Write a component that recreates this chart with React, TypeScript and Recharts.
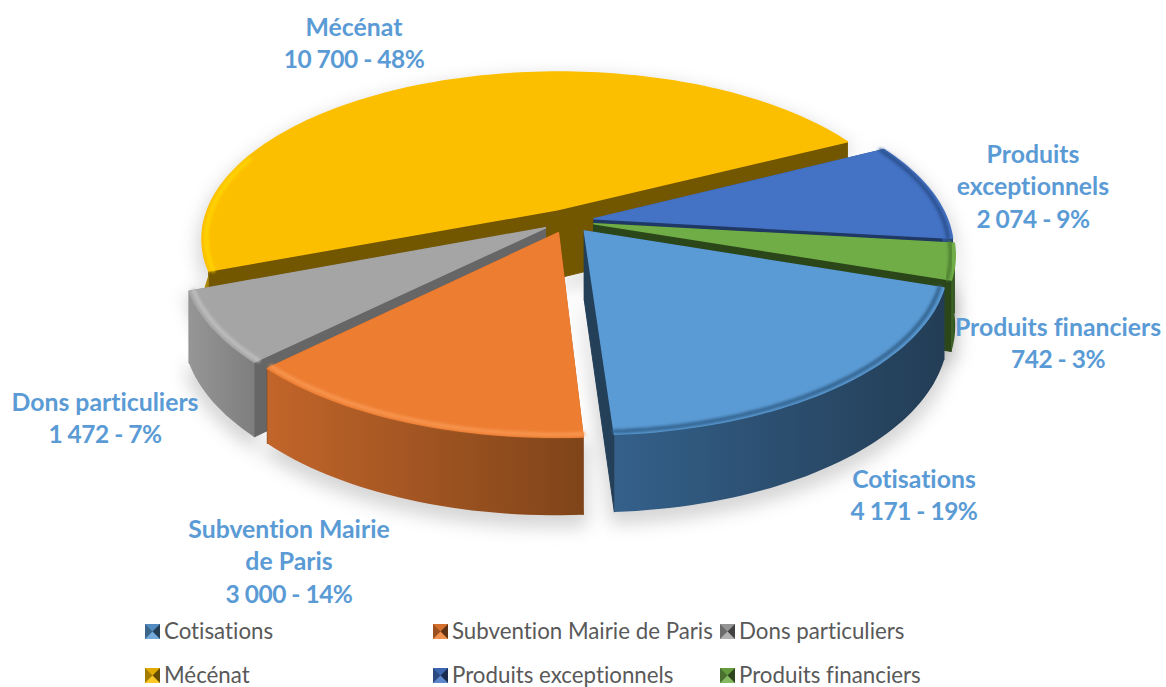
import { Legend, Pie, PieChart } from "recharts";

const CATEGORIES = ["Cotisations", "Subvention Mairie de Paris", "Dons particuliers", "Mécénat", "Produits exceptionnels", "Produits financiers"];
const VALUES = [4171, 3000, 1472, 10700, 2074, 742];
const COLORS = ["#5B9BD5", "#ED7D31", "#A5A5A5", "#FCBF00", "#4472C4", "#70AD47"];
const LABEL_LINES = [["Cotisations"], ["Subvention Mairie", "de Paris"], ["Dons particuliers"], ["Mécénat"], ["Produits", "exceptionnels"], ["Produits financiers"]];

// colours of the 3D look, same order as CATEGORIES
const SIDE_COLORS = ["#243F58", "#7A4119", "#666666", "#735700", "#1F3864", "#2B4619"];
const WALL_LEFT = ["#34608A", "#C2652A", "#969696", "#A88400", "#2F5597", "#3F6A28"];
const WALL_RIGHT = ["#233D55", "#7F4419", "#7E7E7E", "#A88400", "#22406F", "#2F4D1D"];
const RIM_COLORS = ["#33638F", "#F8954F", "#BEBEBE", "#FFD400", "#2C5190", "#4E8030"];
const LABEL_SPOTS = [[914, 478], [289, 528], [105, 401], [354, 26], [1033, 153], [1058, 326]];
const LEGEND_SPOTS = [[145, 632], [433, 632], [720, 632], [145, 676], [433, 676], [720, 676]];

// back to front
const PAINT_ORDER = ["shadow", "Mécénat", "Produits exceptionnels", "Produits financiers", "Dons particuliers", "Subvention Mairie de Paris", "Cotisations"];

const tableData = CATEGORIES.map((name, i) => ({ name, value: VALUES[i], fill: COLORS[i] }));

const TILT = 0.466;
const PERSPECTIVE = 0.172;
const DEPTH = 69;
const EXPLODE = 0.075;
const FONT = "Lato, sans-serif";

const rad = (deg: number) => (deg * Math.PI) / 180;

const Slice = ({ props, layer }: { props: any; layer: string }) => {
  const { cx, cy, outerRadius: r, startAngle, endAngle, name } = props;
  const i = CATEGORIES.indexOf(name);
  if (layer !== "shadow" && layer !== name) return <g />;

  // angles turned clockwise from the right, on the flat disc
  const from = -startAngle;
  const to = -endAngle;
  const mid = (from + to) / 2;
  const offU = EXPLODE * Math.cos(rad(mid));
  const offV = EXPLODE * Math.sin(rad(mid));

  const project = (u: number, v: number, low: boolean) => {
    const s = 1 / (1 - PERSPECTIVE * v);
    return [cx + r * u * s, cy + r * TILT * v * s + (low ? DEPTH * Math.pow(s, 0.6) : 0)];
  };
  // minSin keeps only the part of the arc that faces the viewer
  const arc = (low: boolean, scale = 1, minSin = -2) => {
    const pts: number[][] = [];
    const steps = Math.max(2, Math.ceil(Math.abs(to - from) / 1.5));
    for (let k = 0; k <= steps; k++) {
      const a = rad(from + ((to - from) * k) / steps);
      if (Math.sin(a) < minSin) continue;
      pts.push(project(offU + scale * Math.cos(a), offV + scale * Math.sin(a), low));
    }
    return pts;
  };
  const toLine = (pts: number[][]) => "M" + pts.map((p) => p[0].toFixed(1) + " " + p[1].toFixed(1)).join("L");
  const toPath = (pts: number[][]) => toLine(pts) + "Z";

  const apexTop = project(offU, offV, false);
  const apexLow = project(offU, offV, true);
  const top = arc(false);
  const low = arc(true);

  if (layer === "shadow") {
    return (
      <path
        d={toPath([apexLow, ...low.slice().reverse(), ...top])}
        transform="translate(0 8)"
        fill="#000"
        fillOpacity={0.15}
        stroke="#000"
        strokeOpacity={0.1}
        strokeWidth={10}
        filter="url(#softShadow)"
      />
    );
  }

  const gradId = "wall" + i;
  const wallTop = arc(false, 1, -0.07);
  const wallLow = arc(true, 1, -0.07);
  const rim = arc(false, 0.988, name === "Produits exceptionnels" ? -2 : -0.35);
  return (
    <g>
      <defs>
        <linearGradient id={gradId} x1="0" x2="1" y1="0" y2="0">
          <stop offset="0" stopColor={WALL_LEFT[i]} />
          <stop offset="1" stopColor={WALL_RIGHT[i]} />
        </linearGradient>
      </defs>
      <path d={toPath([apexTop, top[0], low[0], apexLow])} fill={SIDE_COLORS[i]} stroke={SIDE_COLORS[i]} strokeLinejoin="round" />
      <path d={toPath([apexTop, top[top.length - 1], low[low.length - 1], apexLow])} fill={SIDE_COLORS[i]} stroke={SIDE_COLORS[i]} strokeLinejoin="round" />
      <path d={toPath([...wallTop, ...wallLow.slice().reverse()])} fill={`url(#${gradId})`} />
      <path d={toPath([apexTop, ...top])} fill={COLORS[i]} stroke={COLORS[i]} strokeWidth={1.5} strokeLinejoin="round" />
      <path d={toLine(rim)} fill="none" stroke={RIM_COLORS[i]} strokeWidth={4} strokeLinecap="round" filter="url(#softRim)" />
    </g>
  );
};

const renderLabel = (p: any) => {
  const i = CATEGORIES.indexOf(p.name);
  const [x, y] = LABEL_SPOTS[i];
  const amount = String(VALUES[i]).replace(/\B(?=(\d{3})+$)/g, " ");
  const names = LABEL_LINES[i];
  return (
    <text key={p.name} x={x} y={y} textAnchor="middle" fill="#5B9BD5" fontFamily={FONT} fontWeight={700} fontSize={24.8} style={{ fontVariantLigatures: "none" }}>
      {names.map((line, k) => (
        <tspan key={k} x={x} y={y + k * 32.5} dominantBaseline="central">
          {line}
        </tspan>
      ))}
      <tspan x={x} y={y + names.length * 32.5} dominantBaseline="central" fontSize={24.5} letterSpacing={-0.5}>
        {`${amount} - ${Math.round(p.percent * 100)}%`}
      </tspan>
    </text>
  );
};

const LegendIcon = ({ color }: { color: string }) => (
  <svg width={15} height={15} style={{ position: "absolute", left: 0, top: 0 }}>
    <rect width={15} height={15} fill={color} />
    <polygon points="0,0 15,0 7.5,7.5" fill="#000" fillOpacity={0.1} />
    <polygon points="0,0 0,15 7.5,7.5" fill="#000" fillOpacity={0.35} />
    <polygon points="15,0 15,15 7.5,7.5" fill="#000" fillOpacity={0.6} />
    <polygon points="0,15 15,15 7.5,7.5" fill="#fff" fillOpacity={0.15} />
  </svg>
);

const renderLegend = () => (
  <div style={{ position: "relative", width: 1166, height: 0 }}>
    {CATEGORIES.map((name, i) => (
      <div
        key={name}
        style={{
          position: "absolute",
          left: LEGEND_SPOTS[i][0],
          top: LEGEND_SPOTS[i][1] - 8,
          height: 15,
          whiteSpace: "nowrap",
        }}
      >
        <LegendIcon color={COLORS[i]} />
        <span style={{ position: "absolute", left: 19, top: -4, lineHeight: "22px", fontFamily: FONT, fontSize: 22.3, color: "#595959", fontVariantLigatures: "none" }}>{name}</span>
      </div>
    ))}
  </div>
);

export default function App() {
  return (
    <div style={{ position: "absolute", left: 0, top: 0, width: 1166, height: 687, background: "#fff", overflow: "hidden" }}>
      <PieChart width={1166} height={687} margin={{ top: 0, right: 0, bottom: 0, left: 0 }}>
        <defs>
          <filter id="softShadow" x="-20%" y="-20%" width="140%" height="140%">
            <feGaussianBlur stdDeviation="9" />
          </filter>
          <filter id="softRim" x="-10%" y="-10%" width="120%" height="120%">
            <feGaussianBlur stdDeviation="1.6" />
          </filter>
        </defs>
        {PAINT_ORDER.map((layer, n) => (
          <Pie
            key={layer}
            data={tableData}
            dataKey="value"
            nameKey="name"
            cx={568}
            cy={221}
            outerRadius={354}
            startAngle={-18.7}
            endAngle={-378.7}
            stroke="none"
            isAnimationActive={false}
            legendType={n === PAINT_ORDER.length - 1 ? "square" : "none"}
            label={n === PAINT_ORDER.length - 1 ? renderLabel : false}
            labelLine={false}
            shape={(props: any) => <Slice props={props} layer={layer} />}
          />
        ))}
        <Legend content={renderLegend} itemSorter={null} wrapperStyle={{ position: "absolute", left: 0, top: 0, width: 1166 }} />
      </PieChart>
    </div>
  );
}
